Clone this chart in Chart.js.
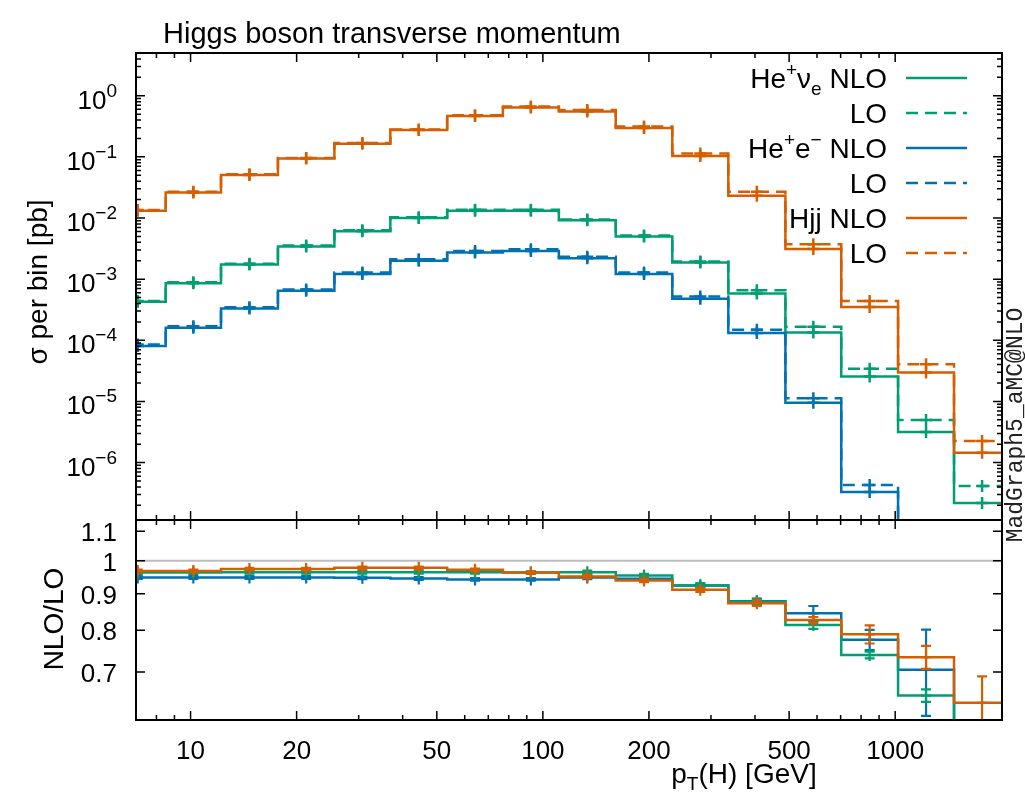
<!DOCTYPE html>
<html>
<head>
<meta charset="utf-8">
<script src="https://cdn.jsdelivr.net/npm/chart.js@4.4.0/dist/chart.umd.min.js"></script>
<style>
  html, body { margin: 0; padding: 0; background: #fff; }
  #wrap { position: relative; width: 1025px; height: 793px; }
  #wrap canvas { position: absolute; left: 0; top: 0; }
</style>
</head>
<body>
<div id="wrap">
  <canvas id="mainChart" width="1025" height="793" style="width:1025px;height:793px"></canvas>
  <canvas id="ratioChart" width="1025" height="793" style="width:1025px;height:793px"></canvas>
</div>
<script>
// bin edges of the pT(H) histogram [GeV]
const binEdges = [5.9, 8.5, 12.2, 17.7, 25.6, 36.9, 53.5, 77, 111, 161, 233, 336, 488, 703, 1019, 1469, 2120];

// sigma per bin [pb]
const wnuNLO = [4.25e-4, 8.6e-4, 1.73e-3, 3.42e-3, 6.1e-3, 9.96e-3, 1.31e-2, 1.31e-2, 9.2e-3, 4.98e-3, 1.87e-3, 5.8e-4, 1.34e-4, 2.55e-5, 3.17e-6, 2.18e-7];
const wnuLO  = [4.4e-4, 8.9e-4, 1.79e-3, 3.55e-3, 6.3e-3, 1.03e-2, 1.36e-2, 1.36e-2, 9.5e-3, 5.2e-3, 1.95e-3, 6.6e-4, 1.66e-4, 3.44e-5, 4.98e-6, 4.14e-7];
const eeNLO  = [8.1e-5, 1.61e-4, 3.3e-4, 6.44e-4, 1.21e-3, 2.0e-3, 2.73e-3, 2.9e-3, 2.2e-3, 1.21e-3, 4.8e-4, 1.31e-4, 9.55e-6, 3.3e-7, 5e-8, 1e-8];
const eeLO   = [8.5e-5, 1.7e-4, 3.48e-4, 6.8e-4, 1.28e-3, 2.12e-3, 2.9e-3, 3.08e-3, 2.32e-3, 1.28e-3, 5.2e-4, 1.49e-4, 1.13e-5, 4.3e-7, 7e-8, 2e-8];
const hjjNLO = [1.31e-2, 2.62e-2, 5.04e-2, 9.4e-2, 0.164, 0.274, 0.465, 0.644, 0.554, 0.296, 0.103, 2.31e-2, 3.1e-3, 3.52e-4, 2.96e-5, 1.45e-6];
const hjjLO  = [1.35e-2, 2.7e-2, 5.18e-2, 9.6e-2, 0.168, 0.28, 0.478, 0.668, 0.583, 0.315, 0.114, 2.7e-2, 3.74e-3, 4.41e-4, 4.06e-5, 2.26e-6];

// NLO/LO ratio and its uncertainty
const wnuRatio = [0.963, 0.963, 0.964, 0.964, 0.964, 0.964, 0.964, 0.963, 0.964, 0.954, 0.924, 0.877, 0.814, 0.739, 0.649, 0.53];
const wnuRatioErr = [0.004, 0.004, 0.004, 0.004, 0.004, 0.004, 0.004, 0.004, 0.005, 0.005, 0.006, 0.008, 0.01, 0.008, 0.013, 0.05];
const eeRatio  = [0.948, 0.948, 0.948, 0.948, 0.947, 0.945, 0.942, 0.942, 0.948, 0.944, 0.924, 0.878, 0.845, 0.776, 0.705, 0.5];
const eeRatioErr = [0.004, 0.004, 0.004, 0.004, 0.004, 0.004, 0.004, 0.004, 0.005, 0.005, 0.006, 0.008, 0.02, 0.025, 0.097, 0.1];
const hjjRatio = [0.968, 0.968, 0.974, 0.974, 0.978, 0.978, 0.9715, 0.963, 0.951, 0.939, 0.911, 0.873, 0.827, 0.79, 0.734, 0.634];
const hjjRatioErr = [0.004, 0.004, 0.004, 0.004, 0.004, 0.004, 0.004, 0.004, 0.005, 0.005, 0.006, 0.008, 0.008, 0.023, 0.027, 0.056];

// axis ticks
const xMajorTicks = [10, 20, 50, 100, 200, 500, 1000];
const xTickLabels = ['10', '20', '50', '100', '200', '500', '1000'];
const xMinorTicks = [8, 9, 30, 40, 60, 70, 80, 90, 300, 400, 600, 700, 800, 900];
const yExponents = [-6, -5, -4, -3, -2, -1, 0];
const ratioTicks = [0.7, 0.8, 0.9, 1, 1.1];
const ratioTickLabels = ['0.7', '0.8', '0.9', '1', '1.1'];

const GREEN = '#009e73', BLUE = '#0072b2', ORANGE = '#d55e00';
const FONT = '"Liberation Sans", Arial, Helvetica, sans-serif';
const DASH = [12, 7];

const binCenters = binEdges.slice(0, -1).map((e, i) => Math.sqrt(e * binEdges[i + 1]));

function histPoints(values) {
  const pts = values.map((v, i) => ({ x: binEdges[i], y: v }));
  pts.push({ x: binEdges[values.length], y: values[values.length - 1] });
  return pts;
}

// 'before' in Chart.js: horizontal at the previous value, then the jump
function stepSet(values, color, dashed, order) {
  return {
    data: histPoints(values),
    borderColor: color,
    borderWidth: 2.5,
    borderDash: dashed ? DASH : [],
    stepped: 'before',
    pointRadius: 0,
    fill: false,
    order: order
  };
}

function markerSet(values, color, order) {
  return {
    data: binCenters.map((c, i) => ({ x: c, y: values[i] })),
    showLine: false,
    pointStyle: 'cross',
    pointRadius: 6,
    borderColor: color,
    borderWidth: 2.5,
    order: order
  };
}

// text with super/subscripts
function drawRich(ctx, segs, x, y, align) {
  let w = 0;
  segs.forEach(s => { ctx.font = (s.size || 28) + 'px ' + FONT; w += ctx.measureText(s.t).width; });
  let cx = align === 'right' ? x - w : (align === 'center' ? x - w / 2 : x);
  ctx.textAlign = 'left';
  ctx.textBaseline = 'alphabetic';
  segs.forEach(s => {
    ctx.font = (s.size || 28) + 'px ' + FONT;
    ctx.fillText(s.t, cx, y + (s.dy || 0));
    cx += ctx.measureText(s.t).width;
  });
}

function drawXTicks(ctx, xs, area, top, bottom) {
  ctx.strokeStyle = '#000';
  ctx.lineWidth = 1.5;
  ctx.beginPath();
  xMajorTicks.forEach(v => {
    const px = xs.getPixelForValue(v);
    if (top) { ctx.moveTo(px, area.top); ctx.lineTo(px, area.top + 9); }
    if (bottom) { ctx.moveTo(px, area.bottom); ctx.lineTo(px, area.bottom - 9); }
  });
  xMinorTicks.forEach(v => {
    const px = xs.getPixelForValue(v);
    if (top) { ctx.moveTo(px, area.top); ctx.lineTo(px, area.top + 5); }
    if (bottom) { ctx.moveTo(px, area.bottom); ctx.lineTo(px, area.bottom - 5); }
  });
  ctx.stroke();
}

const legendRows = [
  { segs: [{ t: 'He' }, { t: '+', size: 19, dy: -12 }, { t: 'ν' }, { t: 'e', size: 19, dy: 7 }, { t: ' NLO' }], color: GREEN, dashed: false },
  { segs: [{ t: 'LO' }], color: GREEN, dashed: true },
  { segs: [{ t: 'He' }, { t: '+', size: 19, dy: -12 }, { t: 'e' }, { t: '−', size: 19, dy: -12 }, { t: ' NLO' }], color: BLUE, dashed: false },
  { segs: [{ t: 'LO' }], color: BLUE, dashed: true },
  { segs: [{ t: 'Hjj NLO' }], color: ORANGE, dashed: false },
  { segs: [{ t: 'LO' }], color: ORANGE, dashed: true }
];

const mainDecor = {
  id: 'mainDecor',
  afterDraw(chart) {
    const ctx = chart.ctx, area = chart.chartArea;
    const xs = chart.scales.x, ys = chart.scales.y;
    ctx.save();
    // y ticks (left and right)
    ctx.strokeStyle = '#000';
    ctx.lineWidth = 1.5;
    ctx.beginPath();
    for (let k = -7; k <= 0; k++) {
      for (let m = 1; m <= 9; m++) {
        const v = m * Math.pow(10, k);
        if (v < ys.min || v > ys.max) continue;
        const py = ys.getPixelForValue(v);
        const len = m === 1 ? 9 : 5;
        ctx.moveTo(area.left, py); ctx.lineTo(area.left + len, py);
        ctx.moveTo(area.right, py); ctx.lineTo(area.right - len, py);
      }
    }
    ctx.stroke();
    drawXTicks(ctx, xs, area, true, true);
    // frame
    ctx.lineWidth = 2;
    ctx.strokeRect(area.left, area.top, area.right - area.left, area.bottom - area.top);
    // y labels
    ctx.fillStyle = '#000';
    yExponents.forEach(k => {
      const py = ys.getPixelForValue(Math.pow(10, k));
      const ex = k < 0 ? '−' + (-k) : String(k);
      drawRich(ctx, [{ t: '10', size: 26 }, { t: ex, size: 19, dy: -12 }], 117, py + 13, 'right');
    });
    // title
    drawRich(ctx, [{ t: 'Higgs boson transverse momentum', size: 29 }], 163, 43, 'left');
    // y title
    ctx.save();
    ctx.translate(47, 282);
    ctx.rotate(-Math.PI / 2);
    drawRich(ctx, [{ t: 'σ per bin [pb]', size: 28 }], 0, 0, 'center');
    ctx.restore();
    // side tag
    ctx.save();
    ctx.translate(1022, 425);
    ctx.rotate(-Math.PI / 2);
    ctx.fillStyle = '#222';
    ctx.font = '23px "Liberation Mono", "DejaVu Sans Mono", monospace';
    ctx.textAlign = 'center';
    ctx.textBaseline = 'alphabetic';
    ctx.fillText('MadGraph5_aMC@NLO', 0, 0);
    ctx.restore();
    // legend
    legendRows.forEach((row, i) => {
      const cy = 78 + 35 * i;
      ctx.fillStyle = '#000';
      drawRich(ctx, row.segs, 887, cy + 10, 'right');
      ctx.strokeStyle = row.color;
      ctx.lineWidth = 2.5;
      ctx.setLineDash(row.dashed ? DASH : []);
      ctx.beginPath();
      ctx.moveTo(906, cy); ctx.lineTo(967, cy);
      ctx.stroke();
      ctx.setLineDash([]);
    });
    ctx.restore();
  }
};

const mainChart = new Chart(document.getElementById('mainChart'), {
  type: 'line',
  data: {
    datasets: [
      stepSet(wnuNLO, GREEN, false, 6), markerSet(wnuNLO, GREEN, 6),
      stepSet(wnuLO, GREEN, true, 5), markerSet(wnuLO, GREEN, 5),
      stepSet(eeNLO, BLUE, false, 4), markerSet(eeNLO, BLUE, 4),
      stepSet(eeLO, BLUE, true, 3), markerSet(eeLO, BLUE, 3),
      stepSet(hjjNLO, ORANGE, false, 2), markerSet(hjjNLO, ORANGE, 2),
      stepSet(hjjLO, ORANGE, true, 1), markerSet(hjjLO, ORANGE, 1)
    ]
  },
  options: {
    responsive: false,
    animation: false,
    events: [],
    layout: { padding: { left: 136, right: 23, top: 53, bottom: 273 } },
    scales: {
      x: { type: 'logarithmic', min: 7, max: 2010, display: false },
      y: { type: 'logarithmic', min: 1.15e-7, max: 5, display: false }
    },
    plugins: { legend: { display: false }, tooltip: { enabled: false } }
  },
  plugins: [mainDecor]
});

// error bars on the ratio panel
const ratioSeries = [
  { values: eeRatio, errs: eeRatioErr, color: BLUE },
  { values: wnuRatio, errs: wnuRatioErr, color: GREEN },
  { values: hjjRatio, errs: hjjRatioErr, color: ORANGE }
];

const ratioDecor = {
  id: 'ratioDecor',
  afterDatasetsDraw(chart) {
    const ctx = chart.ctx, area = chart.chartArea;
    const xs = chart.scales.x, ys = chart.scales.y;
    ctx.save();
    ctx.beginPath();
    ctx.rect(area.left, area.top, area.right - area.left, area.bottom - area.top);
    ctx.clip();
    ctx.lineWidth = 2.2;
    ratioSeries.forEach(s => {
      ctx.strokeStyle = s.color;
      s.values.forEach((r, i) => {
        const px = xs.getPixelForValue(binCenters[i]);
        const py = ys.getPixelForValue(r);
        const hi = ys.getPixelForValue(r + s.errs[i]);
        const lo = ys.getPixelForValue(r - s.errs[i]);
        ctx.beginPath();
        ctx.moveTo(px, Math.min(hi, py - 6)); ctx.lineTo(px, Math.max(lo, py + 6));
        ctx.moveTo(px - 5, py); ctx.lineTo(px + 5, py);
        ctx.moveTo(px - 5, hi); ctx.lineTo(px + 5, hi);
        ctx.moveTo(px - 5, lo); ctx.lineTo(px + 5, lo);
        ctx.stroke();
      });
    });
    ctx.restore();
  },
  afterDraw(chart) {
    const ctx = chart.ctx, area = chart.chartArea;
    const xs = chart.scales.x, ys = chart.scales.y;
    ctx.save();
    ctx.strokeStyle = '#000';
    ctx.lineWidth = 1.5;
    ctx.beginPath();
    ratioTicks.forEach(v => {
      const py = ys.getPixelForValue(v);
      ctx.moveTo(area.left, py); ctx.lineTo(area.left + 9, py);
      ctx.moveTo(area.right, py); ctx.lineTo(area.right - 9, py);
    });
    ctx.stroke();
    drawXTicks(ctx, xs, area, true, true);
    ctx.lineWidth = 2;
    ctx.strokeRect(area.left, area.top, area.right - area.left, area.bottom - area.top);
    ctx.fillStyle = '#000';
    ratioTicks.forEach((v, i) => {
      drawRich(ctx, [{ t: ratioTickLabels[i], size: 26 }], 117, ys.getPixelForValue(v) + 10, 'right');
    });
    xMajorTicks.forEach((v, i) => {
      drawRich(ctx, [{ t: xTickLabels[i], size: 26 }], xs.getPixelForValue(v), 759, 'center');
    });
    drawRich(ctx, [{ t: 'p', size: 28 }, { t: 'T', size: 19, dy: 7 }, { t: '(H) [GeV]', size: 28 }], 744, 783, 'center');
    ctx.save();
    ctx.translate(63, 619);
    ctx.rotate(-Math.PI / 2);
    drawRich(ctx, [{ t: 'NLO/LO', size: 28 }], 0, 0, 'center');
    ctx.restore();
    ctx.restore();
  }
};

const ratioChart = new Chart(document.getElementById('ratioChart'), {
  type: 'line',
  data: {
    datasets: [
      { data: [{ x: 7, y: 1 }, { x: 2010, y: 1 }], borderColor: '#bdbdbd', borderWidth: 2, pointRadius: 0, order: 9 },
      stepSet(eeRatio, BLUE, false, 4),
      stepSet(wnuRatio, GREEN, false, 3),
      stepSet(hjjRatio, ORANGE, false, 2)
    ]
  },
  options: {
    responsive: false,
    animation: false,
    events: [],
    layout: { padding: { left: 136, right: 23, top: 520, bottom: 73 } },
    scales: {
      x: { type: 'logarithmic', min: 7, max: 2010, display: false },
      y: { type: 'logarithmic', min: 0.6, max: 1.14, display: false }
    },
    plugins: { legend: { display: false }, tooltip: { enabled: false } }
  },
  plugins: [ratioDecor]
});
</script>
</body>
</html>
